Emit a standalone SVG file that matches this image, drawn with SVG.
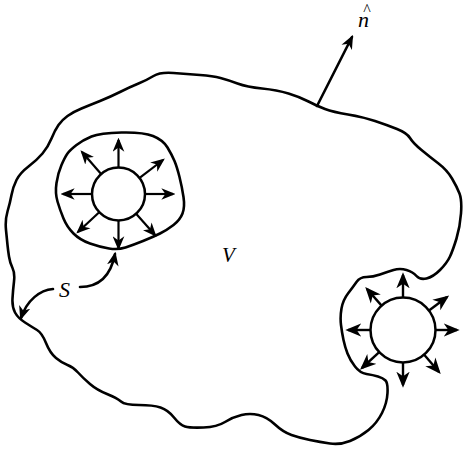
<svg xmlns="http://www.w3.org/2000/svg" width="463" height="453" viewBox="0 0 463 453">
<style>
.b{fill:none;stroke:#000;stroke-width:2.6;stroke-linejoin:round;stroke-linecap:round}
.c{fill:#fff;stroke:#000;stroke-width:2.5}
.as{stroke:#000;stroke-width:2.2;fill:none;marker-end:url(#ah)}
.al{stroke:#000;stroke-width:2.4;fill:none;marker-end:url(#ahl)}
.ac{stroke:#000;stroke-width:2.6;fill:none;stroke-linecap:round;marker-end:url(#ah)}
.t{font-family:"Liberation Serif","Times New Roman",serif;font-style:italic;fill:#000}
</style>
<defs>
<marker id="ah" viewBox="0 0 12 10" refX="10" refY="5" markerWidth="14" markerHeight="12" markerUnits="userSpaceOnUse" orient="auto">
<path d="M0,0 L12,5 L0,10 L3.5,5 z" fill="#000"/>
</marker>
<marker id="ahl" viewBox="0 0 12 10" refX="10" refY="5" markerWidth="16" markerHeight="14" markerUnits="userSpaceOnUse" orient="auto">
<path d="M0,0 L12,5 L0,10 L3.5,5 z" fill="#000"/>
</marker>
</defs>
<g id="volume-boundary">
<path class="b" d="M153.5,76 Q160,72 173.5,73 Q187,74 200,75 Q213,76 220.5,78 Q228,80 237.5,83.5 Q247,87 262,88.5 Q277,90 288.5,93.5 Q300,97 308.5,101.5 Q317,106 325,109 Q333,112 348,114.5 Q363,117 375,121 Q387,125 397,129 Q407,133 410,138 Q413,143 421.5,150 Q430,157 438.5,163.5 Q447,170 452,178.5 Q457,187 459.5,193.5 Q462,200 461,213.5 Q460,227 456.5,238.5 Q453,250 450,256.5 Q447,263 440,270 Q433,277 426.5,278.5 Q420,280 416.5,276 Q413,272 406.5,270 Q400,268 393.5,270 Q387,272 380,274.5 Q373,277 366.5,277 Q360,277 356.5,282 Q353,287 348,293.5 Q343,300 341.5,308.5 Q340,317 341,325 Q342,333 343.5,340 Q345,347 347.5,353.5 Q350,360 355,366.5 Q360,373 366.5,374 Q373,375 378,376.5 Q383,378 385.5,380.5 Q388,383 387.5,393 Q387,403 382,413 Q377,423 368.5,430 Q360,437 350,441 Q340,445 330,443.5 Q320,442 310,440 Q300,438 291.5,435 Q283,432 275,424.5 Q267,417 258.5,415 Q250,413 241.5,415 Q233,417 225,422 Q217,427 203.5,427.5 Q190,428 185,426.5 Q180,425 174,417.5 Q168,410 160.5,407.5 Q153,405 139,405 Q125,405 121,401.5 Q117,398 107,394 Q97,390 90,384 Q83,378 78,372.5 Q73,367 67.5,365 Q62,363 56,358 Q50,353 46,343 Q42,333 37,330 Q32,327 25,322.5 Q18,318 15,312.5 Q12,307 12.5,298.5 Q13,290 14,281.5 Q15,273 12.5,268 Q10,263 9,256.5 Q8,250 7.5,245 Q7,240 6,230 Q5,220 7.5,211.5 Q10,203 11.5,195 Q13,187 16.5,180 Q20,173 28.5,166.5 Q37,160 42.5,153.5 Q48,147 51.5,138.5 Q55,130 58.5,125 Q62,120 67.5,116 Q73,112 81.5,108.5 Q90,105 100,101 Q110,97 120,92 Q130,87 138.5,83.5 Q147,80 153.5,76 Z"/>
</g>
<g id="left-source">
<path class="b" d="M67.5,153.5 Q70,150 76.5,145 Q83,140 91.5,136.5 Q100,133 121.5,132.5 Q143,132 153,136 Q163,140 167.5,147.5 Q172,155 174.5,161 Q177,167 179.5,177 Q182,187 183.5,197 Q185,207 182.5,213.5 Q180,220 173.5,225 Q167,230 160,233.5 Q153,237 143,241 Q133,245 125.5,247.5 Q118,250 109,248.5 Q100,247 90,243.5 Q80,240 73.5,233.5 Q67,227 63.5,218.5 Q60,210 57.5,201.5 Q55,193 56.5,183 Q58,173 61.5,165 Q65,157 67.5,153.5 Z"/>
<circle class="c" cx="118.5" cy="194" r="26.5"/>
</g>
<g id="right-source">
<circle class="c" cx="403" cy="330" r="32.5"/>
</g>
<g id="connectors">
<line class="as" x1="118.5" y1="167.5" x2="118.5" y2="140"/>
<line class="as" x1="118.5" y1="220.5" x2="118.5" y2="248"/>
<line class="as" x1="92" y1="194" x2="63" y2="194"/>
<line class="as" x1="145" y1="194" x2="173" y2="194"/>
<line class="as" x1="101.1" y1="174" x2="82" y2="152"/>
<line class="as" x1="139.6" y1="177.9" x2="163" y2="160"/>
<line class="as" x1="99.2" y1="212.2" x2="78" y2="232"/>
<line class="as" x1="136.1" y1="213.8" x2="155" y2="235"/>
<line class="al" x1="403" y1="297.5" x2="403" y2="275"/>
<line class="al" x1="403" y1="362.5" x2="403" y2="385"/>
<line class="al" x1="370.5" y1="330" x2="348" y2="330"/>
<line class="al" x1="435.5" y1="330" x2="457" y2="330"/>
<line class="al" x1="381.6" y1="305.6" x2="367" y2="289"/>
<line class="al" x1="429" y1="310.5" x2="447" y2="297"/>
<line class="al" x1="379.2" y1="352.1" x2="362" y2="368"/>
<line class="al" x1="424.2" y1="354.7" x2="439" y2="372"/>
<line class="ac" x1="317" y1="106" x2="352" y2="37"/>
<path class="ac" d="M80,287 C95,287 110,280 115,254"/>
<path class="ac" d="M53,289 C40,290 27,300 21,318"/>
</g>
<text class="t" font-size="22"><tspan x="358" y="27">n</tspan><tspan x="367" y="15" font-size="16" font-style="normal" text-anchor="middle">^</tspan></text>
<text class="t" x="222" y="262" font-size="21">V</text>
<text class="t" x="59" y="297" font-size="22">S</text>
</svg>
